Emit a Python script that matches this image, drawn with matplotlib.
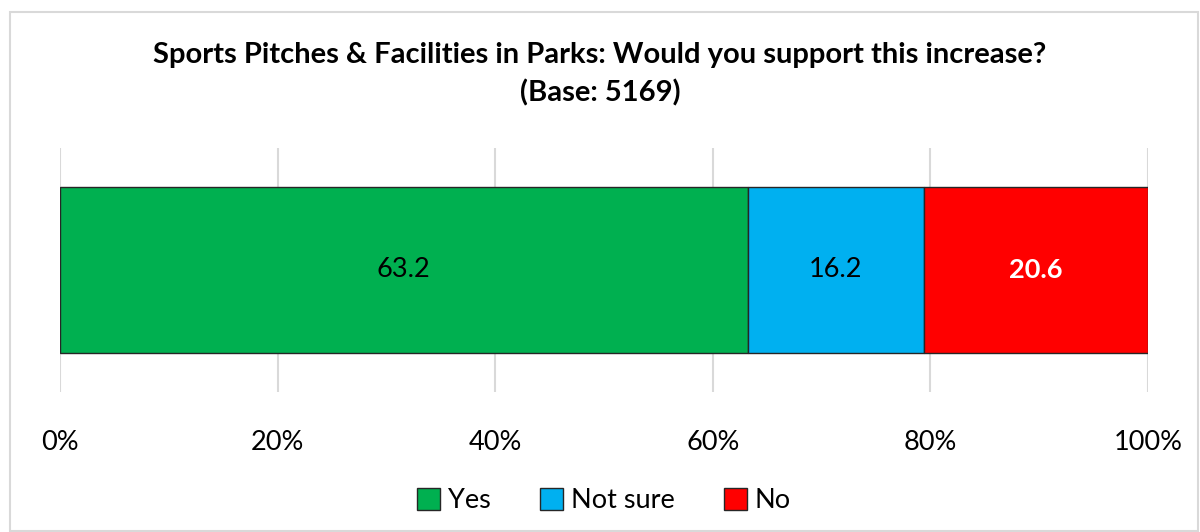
import matplotlib
matplotlib.use("Agg")
import matplotlib.pyplot as plt
from matplotlib.patches import Rectangle

plt.rcParams['font.family'] = ['Lato', 'DejaVu Sans']

# data
categories = ['Yes', 'Not sure', 'No']
values = [63.2, 16.2, 20.6]
colors = ['#00B050', '#00B0F0', '#FF0000']
label_colors = ['black', 'black', 'white']
label_weights = ['normal', 'normal', 'bold']
ticks = [0, 20, 40, 60, 80, 100]

fig = plt.figure(figsize=(12, 5.32), dpi=100)
ax = fig.add_axes([0.05, 0.263, 0.9067, 0.459])

# chart border
fig.patches.append(Rectangle((10/1200, 0.002), 1188/1200, 1 - 12/532 - 0.002,
                             transform=fig.transFigure, fill=False,
                             edgecolor='#D9D9D9', linewidth=1.5))

left = 0
for cat, val, col, lc, lw in zip(categories, values, colors, label_colors, label_weights):
    ax.barh(0, val, left=left, height=0.68, color=col, edgecolor='#262626',
            linewidth=1, label=cat, zorder=3)
    ax.text(left + val / 2, 0, f'{val:.1f}', ha='center', va='center',
            fontsize=19.5, color=lc, fontweight=lw, zorder=4)
    left += val

ax.set_xlim(0, 100)
ax.set_ylim(-0.5, 0.5)
ax.set_xticks(ticks)
ax.set_xticklabels([f'{t}%' for t in ticks], fontsize=19.5)
ax.tick_params(axis='x', length=0, pad=27)
ax.set_yticks([])
for s in ax.spines.values():
    s.set_visible(False)
ax.grid(axis='x', color='#D9D9D9', linewidth=1.5, zorder=0)

fig.text(0.5, 1 - 55/532, 'Sports Pitches & Facilities in Parks: Would you support this increase?',
         ha='center', va='center', fontsize=21, fontweight='bold')
fig.text(0.5, 1 - 93/532, '(Base: 5169)', ha='center', va='center',
         fontsize=21, fontweight='bold')

ax.legend(loc='center', bbox_to_anchor=(0.5, -0.445), ncol=3, frameon=False,
          fontsize=19.5, handlelength=0.85, handleheight=0.85, handletextpad=0.3,
          columnspacing=1.8)

fig.savefig('out.png', dpi=100)
